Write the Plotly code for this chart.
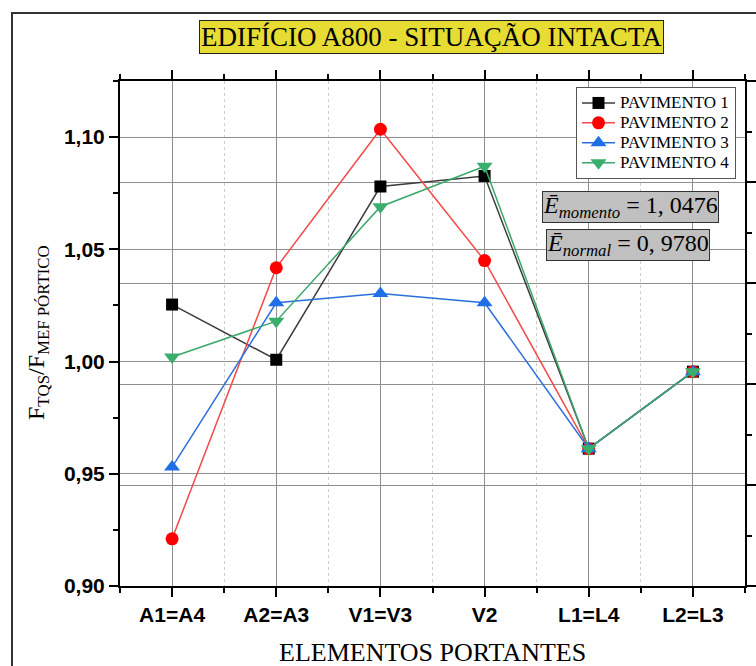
import plotly.graph_objects as go

# Elementos portantes (eixo x) e razões F_TQS / F_MEF por pavimento
categorias = ["A1=A4", "A2=A3", "V1=V3", "V2", "L1=L4", "L2=L3"]
pavimento_1 = [1.0254, 1.0008, 1.0780, 1.0827, 0.9612, 0.9955]
pavimento_2 = [0.9210, 1.0418, 1.1035, 1.0450, 0.9612, 0.9955]
pavimento_3 = [0.9530, 1.0262, 1.0303, 1.0262, 0.9612, 0.9955]
pavimento_4 = [1.0020, 1.0180, 1.0690, 1.0870, 0.9612, 0.9955]

nomes = ["PAVIMENTO 1", "PAVIMENTO 2", "PAVIMENTO 3", "PAVIMENTO 4"]
series = [pavimento_1, pavimento_2, pavimento_3, pavimento_4]
cores_linha = ["#3c3c3c", "#f24a4a", "#2a6fdc", "#3aa86a"]
cores_marca = ["#000000", "#ff0000", "#1f6fe6", "#3aae6c"]
simbolos = ["square", "circle", "triangle-up", "triangle-down"]
tamanhos = [12, 13, 14, 14]

posicoes = list(range(len(categorias)))

fig = go.Figure()
for nome, valores, cl, cm, s, t in zip(nomes, series, cores_linha, cores_marca, simbolos, tamanhos):
    fig.add_trace(go.Scatter(
        x=posicoes, y=valores,
        name=f"<span style='font-size:17px'>{nome}</span>",
        mode="lines+markers",
        line=dict(color=cl, width=1.5),
        marker=dict(symbol=s, size=t, color=cm, line=dict(width=0)),
    ))

# eixo secundário à direita (só escala e grade)
fig.add_trace(go.Scatter(x=[], y=[], yaxis="y2", showlegend=False,
                         hoverinfo="skip", mode="lines"))

serif = "Liberation Serif"
sans = "Liberation Sans"

# posição da área do gráfico em pixels
L, R, T, B = 120, 745, 81, 586
W, H = 756, 666
def px_x(p):
    return (p - L) / (R - L)
def px_y(p):
    return (B - p) / (B - T)

fig.update_layout(
    width=W, height=H,
    margin=dict(l=L, r=W - R, t=T, b=H - B, autoexpand=False),
    paper_bgcolor="white", plot_bgcolor="white",
    separators=",.",
    showlegend=True,
    legend=dict(
        x=px_x(576), y=px_y(87), xanchor="left", yanchor="top",
        font=dict(family=serif, size=13, color="black"),
        bgcolor="white", bordercolor="#555555", borderwidth=1,
        tracegroupgap=0, itemwidth=33,
    ),
    xaxis=dict(
        range=[-0.5, 5.5], automargin=False,
        tickmode="array", tickvals=posicoes, ticktext=categorias,
        tickfont=dict(family=sans, size=21, color="black", weight="bold"),
        ticks="outside", ticklen=9, tickwidth=2, tickcolor="black",
        showline=True, linecolor="black", linewidth=2, mirror="ticks",
        showgrid=True, gridcolor="#8f8f8f", gridwidth=1,
        minor=dict(tickvals=[i - 0.5 for i in range(len(categorias) + 1)],
                   ticks="outside", ticklen=5, tickwidth=2, tickcolor="black",
                   showgrid=True, gridcolor="#cdcdcd", griddash="3px,3px", gridwidth=1),
        zeroline=False, fixedrange=True,
    ),
    yaxis=dict(
        range=[0.90, 1.125], automargin=False,
        tickmode="linear", tick0=0.90, dtick=0.05, tickformat=".2f",
        tickfont=dict(family=sans, size=21, color="black", weight="bold"),
        ticks="outside", ticklen=9, tickwidth=2, tickcolor="black",
        showline=True, linecolor="black", linewidth=2,
        showgrid=True, gridcolor="#8f8f8f", gridwidth=1,
        minor=dict(dtick=0.025, tick0=0.90, ticks="outside", ticklen=5,
                   tickwidth=2, tickcolor="black", showgrid=False),
        zeroline=False, fixedrange=True,
    ),
    yaxis2=dict(
        overlaying="y", side="right", range=[0, 5], automargin=False,
        tickmode="linear", tick0=0, dtick=1, showticklabels=False,
        ticks="outside", ticklen=9, tickwidth=2, tickcolor="black",
        showline=True, linecolor="black", linewidth=2,
        showgrid=True, gridcolor="#8f8f8f", gridwidth=1,
        minor=dict(dtick=0.5, tick0=0, ticks="outside", ticklen=5,
                   tickwidth=2, tickcolor="black", showgrid=False),
        zeroline=False, fixedrange=True,
    ),
)

# moldura externa da página
fig.add_shape(type="rect", xref="paper", yref="paper",
              x0=px_x(12), x1=px_x(800), y0=px_y(720), y1=px_y(13),
              line=dict(color="#333333", width=2), fillcolor="rgba(0,0,0,0)",
              layer="below")

# título com fundo amarelo
fig.add_annotation(
    text="EDIFÍCIO A800 - SITUAÇÃO INTACTA",
    xref="paper", yref="paper", x=px_x(431), y=px_y(37),
    xanchor="center", yanchor="middle", showarrow=False,
    font=dict(family=serif, size=27, color="black"),
    bgcolor="#e6dc34", bordercolor="#222222", borderwidth=1, borderpad=1,
)

# títulos dos eixos
fig.add_annotation(
    text="F<sub>TQS</sub>/F<sub>MEF PÓRTICO</sub>",
    xref="paper", yref="paper", x=px_x(38), y=px_y(333),
    xanchor="center", yanchor="middle", showarrow=False, textangle=-90,
    font=dict(family=serif, size=24, color="black"),
)
fig.add_annotation(
    text="ELEMENTOS PORTANTES",
    xref="paper", yref="paper", x=px_x(432), y=px_y(652),
    xanchor="center", yanchor="middle", showarrow=False,
    font=dict(family=serif, size=26, color="black"),
)

# médias dos erros
caixas = [
    ("<i>Ē</i><sub><i>momento</i></sub> = 1, 0476", 630, 207),
    ("<i>Ē</i><sub><i>normal</i></sub> = 0, 9780", 628, 245),
]
for texto, cx, cy in caixas:
    fig.add_annotation(
        text=texto, xref="paper", yref="paper", x=px_x(cx), y=px_y(cy),
        xanchor="center", yanchor="middle", showarrow=False,
        font=dict(family=serif, size=24, color="black"),
        bgcolor="#c0c0c0", bordercolor="#333333", borderwidth=1, borderpad=0,
    )

fig.write_html("out.html")
